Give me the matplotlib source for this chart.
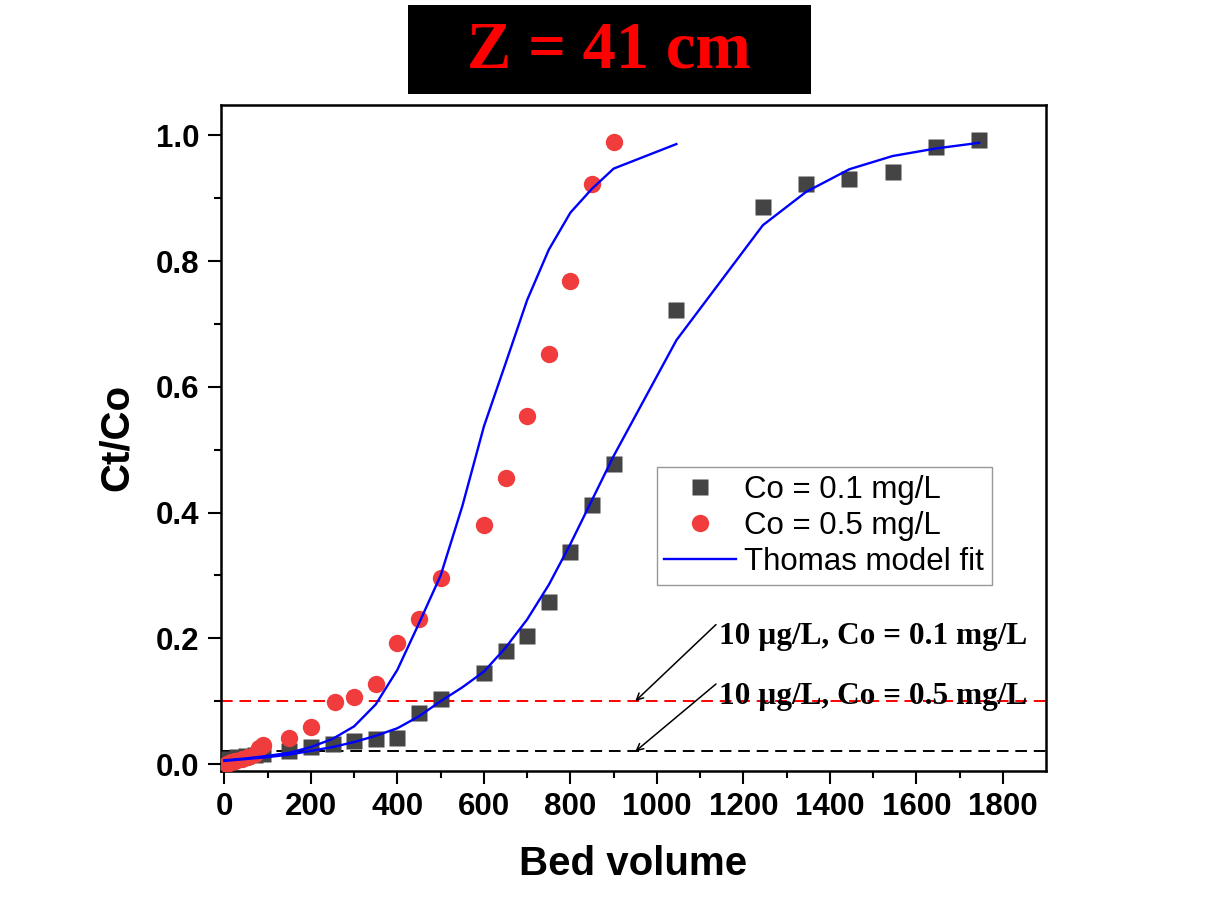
import numpy as np
import matplotlib
matplotlib.use("Agg")
import matplotlib.pyplot as plt
from matplotlib.patches import Rectangle

# experimental data, Co = 0.1 mg/L
bv_01 = [10, 30, 50, 70, 90, 150, 200, 250, 300, 350, 400, 450, 500, 600, 650,
         700, 750, 800, 850, 900, 1045, 1245, 1345, 1445, 1545, 1645, 1745]
ct_01 = [0.008, 0.011, 0.013, 0.015, 0.016, 0.02, 0.027, 0.032, 0.037, 0.04, 0.042,
         0.082, 0.103, 0.145, 0.18, 0.204, 0.258, 0.337, 0.412, 0.477, 0.722,
         0.886, 0.923, 0.93, 0.941, 0.982, 0.992]

# experimental data, Co = 0.5 mg/L
bv_05 = [5, 15, 25, 40, 55, 70, 80, 90, 150, 200, 255, 300, 350, 400, 450, 500,
         600, 650, 700, 750, 800, 850, 900]
ct_05 = [0.0, 0.003, 0.005, 0.008, 0.011, 0.016, 0.026, 0.031, 0.041, 0.059, 0.099,
         0.107, 0.127, 0.192, 0.23, 0.296, 0.38, 0.455, 0.553, 0.652, 0.768, 0.922, 0.989]

# Thomas model fits
fit_x_05 = [0, 50, 100, 150, 200, 250, 300, 350, 400, 450, 500, 550, 600, 650, 700,
            750, 800, 850, 900, 1045]
fit_y_05 = [0.006, 0.009, 0.013, 0.018, 0.027, 0.04, 0.06, 0.095, 0.15, 0.224, 0.30,
            0.41, 0.537, 0.637, 0.738, 0.818, 0.877, 0.915, 0.947, 0.986]
fit_x_01 = [0, 50, 100, 150, 200, 250, 300, 350, 400, 450, 500, 550, 600, 650, 700,
            750, 800, 850, 900, 1045, 1245, 1345, 1445, 1545, 1645, 1745]
fit_y_01 = [0.005, 0.008, 0.011, 0.015, 0.021, 0.027, 0.035, 0.045, 0.057, 0.076, 0.10,
            0.122, 0.147, 0.185, 0.23, 0.285, 0.35, 0.42, 0.49, 0.674, 0.857, 0.91,
            0.946, 0.967, 0.979, 0.988]

lim_01 = 0.1
lim_05 = 0.02

sans = "Liberation Sans"
serif = "Liberation Serif"

fig = plt.figure(figsize=(12.1, 9.22), dpi=100)
ax = fig.add_axes([0.1826, 0.164, 0.682, 0.7225])

ax.axhline(lim_01, color="red", lw=1.4, ls=(0, (6, 3.5)), zorder=1)
ax.axhline(lim_05, color="black", lw=1.4, ls=(0, (6, 3.5)), zorder=1)

ax.plot(bv_01, ct_01, "s", color="#444444", ms=11, mec="none", label="Co = 0.1 mg/L", zorder=3)
ax.plot(bv_05, ct_05, "o", color="#F03C3C", ms=12.5, mec="none", label="Co = 0.5 mg/L", zorder=3)
ax.plot(fit_x_05, fit_y_05, "-", color="#0000FF", lw=1.7, label="Thomas model fit", zorder=4)
ax.plot(fit_x_01, fit_y_01, "-", color="#0000FF", lw=1.7, zorder=4)

ax.set_xlim(-8, 1900)
ax.set_ylim(-0.0107, 1.0487)
ax.set_xticks(np.arange(0, 1801, 200))
ax.set_xticks(np.arange(100, 1801, 200), minor=True)
ax.set_yticks(np.arange(0, 1.01, 0.2))
ax.set_yticks(np.arange(0.1, 1.0, 0.2), minor=True)
ax.set_yticklabels(["0.0", "0.2", "0.4", "0.6", "0.8", "1.0"])

ax.tick_params(which="major", direction="out", length=9.5, width=1.5, pad=6,
               labelsize=22.5)
ax.tick_params(which="minor", direction="out", length=5, width=1.5)
for lab in ax.get_xticklabels() + ax.get_yticklabels():
    lab.set_fontfamily(sans)
    lab.set_fontweight("bold")
for sp in ax.spines.values():
    sp.set_linewidth(1.8)

ax.set_xlabel("Bed volume", fontfamily=sans, fontweight="bold", fontsize=29, labelpad=16)
ax.set_ylabel("Ct/Co", fontfamily=sans, fontweight="bold", fontsize=29, labelpad=14)

leg = ax.legend(loc="upper left", bbox_to_anchor=(0.528, 0.456), prop={"family": sans, "size": 22.5},
                frameon=True, fancybox=False, edgecolor="#7f7f7f", handlelength=2.3,
                handletextpad=0.25, labelspacing=0.2, borderpad=0.25, borderaxespad=0)
leg.get_frame().set_linewidth(1.0)

ann_kw = dict(xycoords="data", textcoords="data", fontfamily=serif, fontweight="bold",
              fontsize=22.5, ha="left", va="top",
              arrowprops=dict(arrowstyle="->", color="black", lw=1.1, shrinkA=0, shrinkB=0,
                              relpos=(0, 1), mutation_scale=12))
ax.annotate("10 \u00b5g/L, Co = 0.1 mg/L", xy=(950, lim_01), xytext=(1143, 0.226), **ann_kw)
ax.annotate("10 \u00b5g/L, Co = 0.5 mg/L", xy=(950, lim_05), xytext=(1143, 0.131), **ann_kw)

# title box
fig.patches.append(Rectangle((408 / 1210, 1 - 94 / 922), (811 - 408) / 1210, (94 - 5) / 922,
                             transform=fig.transFigure, facecolor="black", edgecolor="none"))
fig.text(609 / 1210, 1 - 51 / 922, "Z = 41 cm", color="red", fontfamily=serif,
         fontweight="bold", fontsize=48, ha="center", va="center")

fig.savefig("out.png", dpi=100)
